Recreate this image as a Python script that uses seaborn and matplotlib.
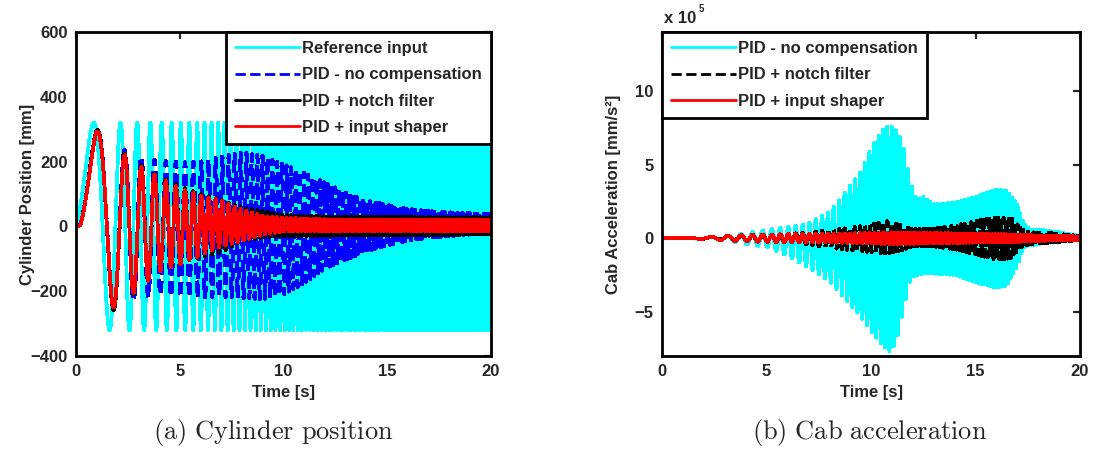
import numpy as np
import matplotlib
matplotlib.use("Agg")
import matplotlib.pyplot as plt
import seaborn as sns

# ---------------- data ----------------
# swept-sine test: instantaneous frequency f(t) = F_START + F_RATE * t  [Hz]
F_START = 0.1
F_RATE = 0.45
RESPONSE_LAG = 0.2          # s, lag of the closed-loop responses

# (a) cylinder position envelopes [mm] at knot times
POS_T = [0, 1, 2, 3, 4, 5, 6, 7, 8, 9, 10, 11, 12, 13, 14, 15, 16, 17, 18, 19, 20]
REF_UP = [320] * 21
REF_LO = [-320] * 21
NOCOMP_UP = [300, 300, 245, 217, 203, 198, 200, 215, 228, 217, 192, 165, 135, 105, 80, 66, 54, 47, 43, 40, 38]
NOCOMP_LO = [-300, -265, -250, -223, -212, -218, -220, -216, -220, -225, -210, -175, -130, -103, -79, -58, -44, -35, -30, -25, -22]
NOTCH_UP = [300, 300, 240, 195, 155, 125, 100, 82, 58, 47, 36, 32, 31, 30, 30, 29, 29, 28, 28, 28, 28]
NOTCH_LO = [-300, -270, -255, -195, -140, -110, -95, -80, -45, -34, -31, -30, -29, -28, -28, -27, -27, -26, -26, -25, -25]
SHAPER_UP = [295, 295, 235, 190, 152, 118, 95, 80, 52, 32, 27, 24, 22, 21, 21, 20, 20, 20, 20, 20, 20]
SHAPER_LO = [-295, -265, -245, -193, -140, -117, -90, -62, -45, -26, -16, -15, -15, -15, -14, -14, -14, -14, -14, -14, -14]

# (b) cab acceleration envelopes [x 1e5 mm/s^2]
ACC_NOCOMP_T = [0, 2, 3, 4, 5, 6, 7, 8, 8.5, 9.0, 9.5, 10.0, 10.5, 10.9, 11.2, 11.5, 11.9, 12.2, 12.5,
                13.0, 14.0, 15.0, 16.0, 16.5, 17.0, 17.3, 17.6, 18.2, 19.0, 20.0]
ACC_NOCOMP_UP = [0.02, 0.05, 0.15, 0.35, 0.55, 0.75, 1.0, 1.8, 2.6, 3.6, 4.5, 6.1, 7.3, 7.7, 7.3, 6.6, 3.7, 2.6, 2.8,
                 2.3, 2.4, 2.8, 3.3, 3.2, 2.3, 1.0, 0.6, 0.55, 0.4, 0.15]
ACC_NOCOMP_LO = [-0.02, -0.05, -0.15, -0.4, -0.6, -1.2, -2.0, -2.9, -3.7, -4.5, -5.3, -6.3, -7.2, -7.7, -7.1, -5.2, -2.7, -2.5, -2.4,
                 -2.4, -2.5, -3.0, -3.35, -3.2, -1.9, -0.6, -0.5, -0.35, -0.25, -0.1]
ACC_NOTCH_T = [0, 3, 5, 6, 7, 8, 9, 10, 10.8, 11.5, 12, 13, 14, 15, 16, 16.8, 17.2, 17.6, 18.5, 20]
ACC_NOTCH_UP = [0.01, 0.1, 0.2, 0.28, 0.38, 0.55, 0.7, 0.95, 1.15, 0.85, 0.6, 0.65, 0.85, 1.15, 1.4, 1.3, 0.6, 0.4, 0.35, 0.15]
ACC_NOTCH_LO = [-0.01, -0.1, -0.2, -0.3, -0.42, -0.65, -0.8, -0.95, -1.05, -0.8, -0.55, -0.55, -0.75, -1.1, -1.45, -1.35, -0.6, -0.4, -0.3, -0.12]
ACC_SHAPER_T = [0, 2, 3, 4, 6, 8, 10, 11, 13, 15, 17, 18, 20]
ACC_SHAPER_UP = [0.01, 0.05, 0.15, 0.22, 0.28, 0.3, 0.35, 0.4, 0.35, 0.3, 0.25, 0.18, 0.12]
ACC_SHAPER_LO = [-0.01, -0.05, -0.15, -0.22, -0.28, -0.3, -0.35, -0.4, -0.35, -0.3, -0.25, -0.18, -0.12]

POS_LABELS = ["Reference input", "PID - no compensation", "PID + notch filter", "PID + input shaper"]
ACC_LABELS = ["PID - no compensation", "PID + notch filter", "PID + input shaper"]
CAPTIONS = ["(a) Cylinder position", "(b) Cab acceleration"]

# ---------------- build signals ----------------
t = np.linspace(0, 20, 24001)


def swept(tk, up, lo, lag):
    tt = np.clip(t - lag, 0, None)
    phase = 2 * np.pi * (F_START * tt + 0.5 * F_RATE * tt ** 2)
    u = np.interp(t, tk, up)
    l = np.interp(t, tk, lo)
    return (u + l) / 2 + (u - l) / 2 * np.sin(phase)


ref = swept(POS_T, REF_UP, REF_LO, 0.0)
nocomp = swept(POS_T, NOCOMP_UP, NOCOMP_LO, RESPONSE_LAG)
notch = swept(POS_T, NOTCH_UP, NOTCH_LO, RESPONSE_LAG)
shaper = swept(POS_T, SHAPER_UP, SHAPER_LO, RESPONSE_LAG)

a_nocomp = swept(ACC_NOCOMP_T, ACC_NOCOMP_UP, ACC_NOCOMP_LO, RESPONSE_LAG)
a_notch = swept(ACC_NOTCH_T, ACC_NOTCH_UP, ACC_NOTCH_LO, RESPONSE_LAG)
a_shaper = swept(ACC_SHAPER_T, ACC_SHAPER_UP, ACC_SHAPER_LO, RESPONSE_LAG)

# ---------------- style ----------------
sns.set_style("white")
plt.rcParams["font.family"] = ["Liberation Sans", "DejaVu Sans"]
plt.rcParams["font.weight"] = "bold"
plt.rcParams["axes.labelweight"] = "bold"
plt.rcParams["font.size"] = 12

CYAN = "#00FFFF"
BLUE = "#0000FF"
BLACK = "#000000"
RED = "#FF0000"
LW = 2.0

fig = plt.figure(figsize=(10.94, 4.55), dpi=100)
axL = fig.add_axes([76 / 1094, 99 / 455, 415 / 1094, 324 / 455])
axR = fig.add_axes([662 / 1094, 99 / 455, 418 / 1094, 324 / 455])


def line(ax, y, color, ls="-", label=None):
    sns.lineplot(x=t, y=y, ax=ax, color=color, linewidth=LW, linestyle=ls,
                 estimator=None, sort=False, label=label, legend=False,
                 antialiased=False)


line(axL, ref, CYAN)
line(axL, nocomp, BLUE, (0, (4, 2.5)))
line(axL, notch, BLACK)
line(axL, shaper, RED)

line(axR, a_nocomp, CYAN)
line(axR, a_notch, BLACK, (0, (4, 2.5)))
line(axR, a_shaper, RED)

for ax in (axL, axR):
    ax.set_xlim(0, 20)
    ax.set_xticks([0, 5, 10, 15, 20])
    ax.tick_params(direction="in", length=5, width=1.6, top=True, right=True,
                   labelsize=12, pad=6)
    for s in ax.spines.values():
        s.set_linewidth(2.0)
        s.set_color("black")
        s.set_visible(True)
    ax.set_xlabel("Time [s]", fontsize=12, fontweight="bold", labelpad=4)
    for lab in ax.get_xticklabels() + ax.get_yticklabels():
        lab.set_fontweight("bold")

axL.set_ylim(-400, 600)
axL.set_yticks([-400, -200, 0, 200, 400, 600])
axL.set_ylabel("Cylinder Position [mm]", fontsize=12, fontweight="bold", labelpad=-3)

axR.set_ylim(-8, 14)
axR.set_yticks([-5, 0, 5, 10])
axR.set_ylabel("Cab Acceleration [mm/s²]", fontsize=12, fontweight="bold", labelpad=10)
axR.text(0.005, 1.02, "x 10", transform=axR.transAxes, ha="left", va="bottom",
         fontsize=12, fontweight="bold")
axR.text(0.087, 1.055, "5", transform=axR.transAxes, ha="left", va="bottom",
         fontsize=7, fontweight="bold")


def legend(ax, labels, loc):
    handles = [plt.Line2D([], [], color=l.get_color(), linestyle=l.get_linestyle(),
                          linewidth=LW) for l in ax.get_lines()]
    leg = ax.legend(handles, labels, loc=loc, borderaxespad=0,
                    frameon=True, fancybox=False, edgecolor="black", framealpha=1,
                    handlelength=3.9, handletextpad=0.1, labelspacing=0.68,
                    borderpad=0.55, prop={"weight": "bold", "size": 12})
    leg.get_frame().set_linewidth(2.0)
    return leg


legend(axL, POS_LABELS, "upper right")
legend(axR, ACC_LABELS, "upper left")

fig.text(273 / 1094, 1 - 432 / 455, r"$\mathrm{" + CAPTIONS[0].replace(" ", r"\ ") + "}$",
         ha="center", va="center", fontsize=19, math_fontfamily="cm")
fig.text(870 / 1094, 1 - 432 / 455, r"$\mathrm{" + CAPTIONS[1].replace(" ", r"\ ") + "}$",
         ha="center", va="center", fontsize=19, math_fontfamily="cm")

fig.savefig("out.png", dpi=100, facecolor="white")
